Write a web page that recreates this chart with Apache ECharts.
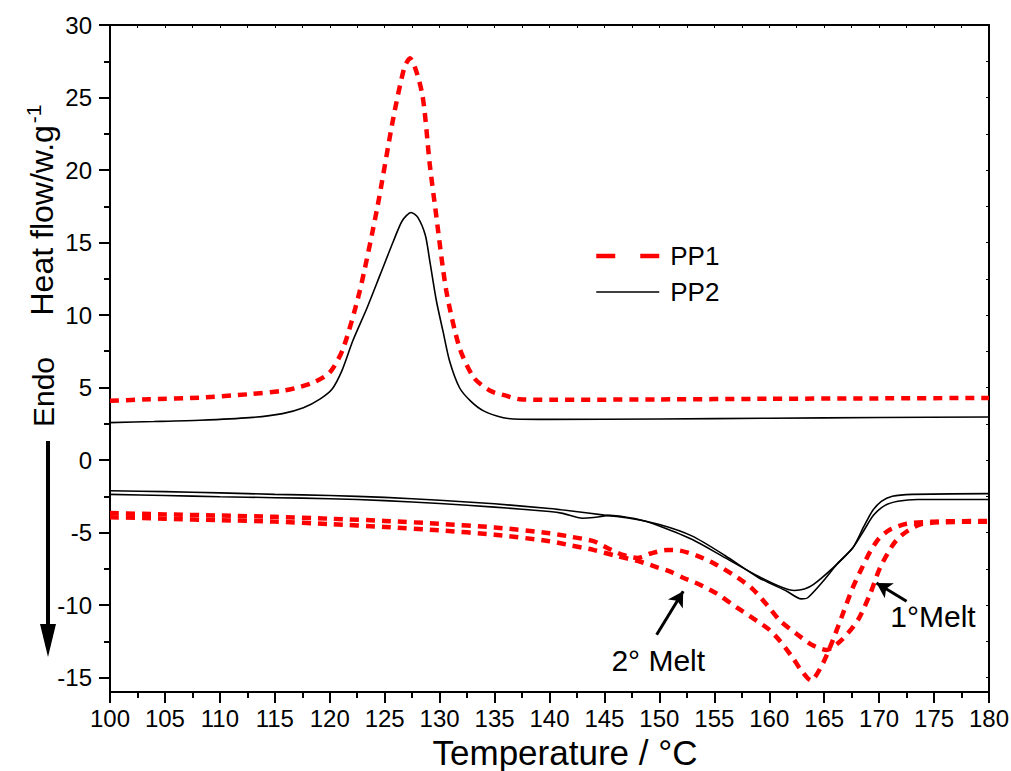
<!DOCTYPE html>
<html>
<head>
<meta charset="utf-8">
<script src="https://cdn.jsdelivr.net/npm/echarts@6/dist/echarts.min.js"></script>
<style>html,body{margin:0;padding:0;background:#fff}#c{width:1011px;height:771px}</style>
</head>
<body>
<div id="c"></div>
<script>
// ---- data ----
const xTicks = [100,105,110,115,120,125,130,135,140,145,150,155,160,165,170,175,180];
const yTickLabels = [-15,-10,-5,0,5,10,15,20,25,30];
const yMinorTicks = [-12.5,-7.5,-2.5,2.5,7.5,12.5,17.5,22.5,27.5];

// PP1 cooling (crystallisation)
const pp1CoolX = [100,103.6,108.2,112.7,115.7,117.3,118.5,120.0,121.2,122.7,124.3,125.8,126.8,127.3,128.4,129.1,129.6,130.6,131.8,133.1,134.6,136.1,137.3,140,150,160,170,180];
const pp1CoolY = [4.08,4.19,4.3,4.54,4.77,5.04,5.34,6.03,7.65,11.56,17.3,23.65,27.1,27.7,25.3,20.4,17.4,11.7,7.76,5.69,4.77,4.42,4.19,4.15,4.18,4.22,4.25,4.28];
// PP1 1st melt
const pp1Melt1X = [100,105,110,115,120,125,130,135,140,142,144,145.5,146.7,148,149.2,150.7,151.9,153.4,154.9,157.1,158.5,159.8,161,162.5,164,165.2,166.6,168.1,169.2,170.1,171.3,172.2,173.7,175.5,180];
const pp1Melt1Y = [-3.66,-3.75,-3.83,-3.92,-4.05,-4.2,-4.4,-4.65,-5.05,-5.3,-5.6,-6.15,-6.55,-6.75,-6.45,-6.2,-6.25,-6.6,-7.1,-8.1,-8.9,-10,-11.1,-12.0,-12.8,-13.1,-12.4,-11.0,-9.2,-7.4,-5.8,-5.1,-4.45,-4.3,-4.25];
// PP1 2nd melt
const pp1Melt2X = [100,105,110,115,120,125,130,135,140,142,144,146,148.2,149.8,151,152.1,153.7,155.2,157.1,158.5,160,161,162.2,162.8,163.8,164.9,165.8,166.7,167.6,168.4,169.2,170,171,172.5,175,180];
const pp1Melt2Y = [-3.94,-4.05,-4.15,-4.25,-4.42,-4.62,-4.85,-5.15,-5.6,-5.9,-6.2,-6.6,-7.0,-7.4,-7.7,-8.1,-8.6,-9.2,-10.2,-10.9,-11.7,-12.5,-13.7,-14.4,-15.2,-14.0,-12.4,-10.6,-8.8,-7.5,-6.3,-5.4,-4.8,-4.4,-4.25,-4.2];

// PP2 cooling
const pp2CoolX = [100,104,108.2,112.7,115.7,117.6,119.1,120.2,121.1,122.1,123.4,124.6,125.8,126.6,127.4,128.0,128.7,129.1,129.7,130.3,130.9,131.8,132.8,134.0,135.8,137.3,140,150,160,170,180];
const pp2CoolY = [2.58,2.65,2.74,2.92,3.2,3.6,4.2,4.88,6.15,8.22,10.5,12.8,15.1,16.5,17.07,16.75,15.5,13.75,11.0,8.9,6.84,5.0,4.08,3.39,2.92,2.81,2.8,2.83,2.88,2.93,2.97];
// PP2 melt A
const pp2MeltAX = [100,105,110,115,120,125,130,135,140,142,145,147,150,153,156,159,161.6,162.9,163.5,164.9,166.2,167.6,168.6,169.4,170.2,171.2,173,180];
const pp2MeltAY = [-2.12,-2.18,-2.27,-2.37,-2.45,-2.58,-2.78,-3.02,-3.35,-3.52,-3.8,-3.98,-4.45,-5.25,-6.6,-8.1,-9.05,-9.58,-9.5,-8.36,-7.15,-6.06,-4.6,-3.5,-2.85,-2.5,-2.37,-2.32];
// PP2 melt B
const pp2MeltBX = [100,105,110,115,120,125,130,135,140,141.2,143,144,145.5,147,148.5,150,153,156,159,161.2,162.3,163.2,164,165.8,167.6,168.5,169.5,170.5,171.7,173.5,180];
const pp2MeltBY = [-2.37,-2.45,-2.53,-2.6,-2.67,-2.8,-3.0,-3.25,-3.55,-3.68,-4.02,-3.97,-3.82,-3.95,-4.17,-4.55,-5.48,-6.75,-8.02,-8.8,-9.0,-8.9,-8.6,-7.44,-6.06,-5.0,-3.8,-3.15,-2.85,-2.72,-2.72];

// annotations (data coordinates)
const arrow2From = [149.75,-12.05], arrow2To = [152.17,-9.05];
const arrow1From = [172.5,-9.74],  arrow1To = [169.76,-8.48];
const label2Pos = [149.9,-13.82], label1Pos = [174.9,-10.8];

const zip = (xs, ys) => xs.map((x,i)=>[x, ys[i]]);
const FONT = 'Liberation Sans, Arial, sans-serif';
const RED = '#ff0000';

const redStyle = {color: RED, width: 4.5, type: [9,7], cap: 'butt'};
const blackStyle = {color: '#000', width: 1.6, type: 'solid'};

function mk(name, data, style, extra) {
  return Object.assign({
    name, type: 'line', data, showSymbol: false, symbol: 'none',
    smooth: 0.25, lineStyle: style, itemStyle: {color: style.color},
    animation: false, z: name === 'PP1' ? 3 : 4
  }, extra || {});
}

const chart = echarts.init(document.getElementById('c'), null, {renderer: 'svg'});
chart.setOption({
  backgroundColor: '#fff',
  animation: false,
  grid: {left: 110, right: 22, top: 25, bottom: 79, containLabel: false, outerBoundsMode: 'none'},
  legend: {
    orient: 'vertical', left: 594, top: 243, padding: 0, itemWidth: 63, itemHeight: 14, itemGap: 10,
    textStyle: {fontSize: 26, fontFamily: FONT, color: '#000', padding: [0,0,0,6]},
    itemStyle: {opacity: 0},
    data: [
      {name: 'PP1', lineStyle: {type: [19,25], width: 4.5, color: RED}, itemStyle: {opacity: 0}},
      {name: 'PP2', lineStyle: {width: 1.6, color: '#000'}, itemStyle: {opacity: 0}}
    ]
  },
  xAxis: [
    {type: 'value', min: 100, max: 180, interval: 5, position: 'bottom',
     axisLine: {onZero: false, lineStyle: {color: '#000', width: 2}},
     axisTick: {inside: false, length: 11, lineStyle: {color: '#000', width: 2}},
     minorTick: {show: true, splitNumber: 2, length: 6, lineStyle: {color: '#000', width: 2}},
     axisLabel: {fontSize: 24, fontFamily: FONT, color: '#000', margin: 14},
     splitLine: {show: false},
     name: 'Temperature / °C', nameLocation: 'middle', nameGap: 18,
     nameTextStyle: {fontSize: 35, fontFamily: FONT, color: '#000', padding: [0,0,0,31]}},
    {type: 'value', min: 100, max: 180, interval: 2.5, position: 'top',
     axisLine: {onZero: false, lineStyle: {color: '#000', width: 2}},
     axisTick: {inside: true, length: 3, lineStyle: {color: '#000', width: 1}},
     axisLabel: {show: false}, splitLine: {show: false}}
  ],
  yAxis: [
    {type: 'value', min: -16, max: 30, position: 'left',
     axisLine: {onZero: false, lineStyle: {color: '#000', width: 2}},
     axisTick: {inside: false, length: 11, customValues: yTickLabels, lineStyle: {color: '#000', width: 2}},
     axisLabel: {fontSize: 24, fontFamily: FONT, color: '#000', margin: 18, customValues: yTickLabels},
     splitLine: {show: false}},
    {type: 'value', min: -16, max: 30, position: 'left',
     axisLine: {show: false},
     axisTick: {inside: false, length: 6, customValues: yMinorTicks, lineStyle: {color: '#000', width: 2}},
     axisLabel: {show: false}, splitLine: {show: false}},
    {type: 'value', min: -16, max: 30, position: 'right',
     axisLine: {onZero: false, lineStyle: {color: '#000', width: 2}},
     axisTick: {inside: true, length: 3, customValues: yTickLabels.concat(yMinorTicks), lineStyle: {color: '#000', width: 1}},
     axisLabel: {show: false}, splitLine: {show: false}}
  ],
  series: [
    mk('PP1', zip(pp1CoolX, pp1CoolY), redStyle),
    mk('PP1', zip(pp1Melt1X, pp1Melt1Y), redStyle),
    mk('PP1', zip(pp1Melt2X, pp1Melt2Y), redStyle),
    mk('PP2', zip(pp2CoolX, pp2CoolY), blackStyle),
    mk('PP2', zip(pp2MeltAX, pp2MeltAY), blackStyle),
    mk('PP2', zip(pp2MeltBX, pp2MeltBY), blackStyle, {
      markLine: {
        silent: true, symbol: ['none', 'arrow'], symbolSize: [13, 15],
        lineStyle: {color: '#000', width: 3, type: 'solid'},
        label: {show: false},
        data: [
          [{coord: arrow2From}, {coord: arrow2To}],
          [{coord: arrow1From}, {coord: arrow1To}]
        ]
      },
      markPoint: {
        silent: true, symbol: 'circle', symbolSize: 0,
        label: {show: true, position: 'inside', color: '#000', fontSize: 30, fontFamily: FONT},
        data: [
          {coord: label2Pos, label: {formatter: '2° Melt'}},
          {coord: label1Pos, label: {formatter: '1°Melt'}}
        ]
      }
    })
  ],
  graphic: [
    {type: 'text', x: 42, y: 210, rotation: Math.PI/2,
     style: {text: 'Heat flow/w.g{sup|-1}', fontSize: 32, fontFamily: FONT, fill: '#000',
       align: 'center', verticalAlign: 'middle',
       rich: {sup: {fontSize: 21, fontFamily: FONT, fill: '#000', verticalAlign: 'top', padding: [0,0,17,2]}}}},
    {type: 'text', x: 43, y: 392, rotation: Math.PI/2,
     style: {text: 'Endo', fontSize: 30, fontFamily: FONT, fill: '#000', align: 'center', verticalAlign: 'middle'}},
    {type: 'line', shape: {x1: 48, y1: 441, x2: 48, y2: 630}, style: {stroke: '#000', lineWidth: 4}},
    {type: 'polygon', shape: {points: [[40,624],[56,624],[48,657]]}, style: {fill: '#000'}}
  ]
});
</script>
</body>
</html>
